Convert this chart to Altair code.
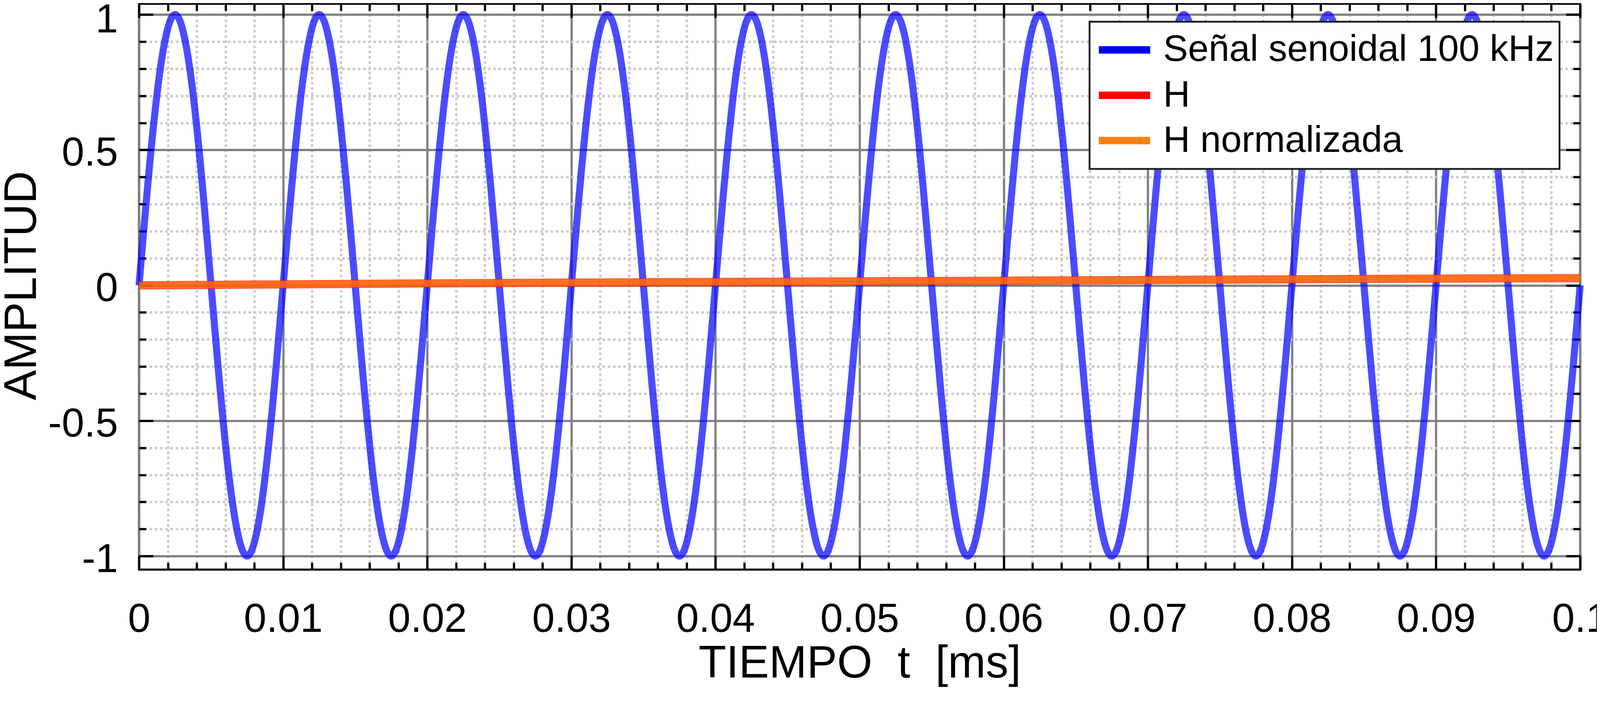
import altair as alt
import pandas as pd

FONT = "Liberation Sans"

SERIES = ["Señal senoidal 100 kHz", "H", "H normalizada"]
COLORS = ["#0000ff", "#ff0000", "#ff7f0e"]

T_WAVE = [
    0.0, 0.00125, 0.0025, 0.00375, 0.005, 0.00625, 0.0075, 0.00875,
    0.01, 0.01125, 0.0125, 0.01375, 0.015, 0.01625, 0.0175, 0.01875,
    0.02, 0.02125, 0.0225, 0.02375, 0.025, 0.02625, 0.0275, 0.02875,
    0.03, 0.03125, 0.0325, 0.03375, 0.035, 0.03625, 0.0375, 0.03875,
    0.04, 0.04125, 0.0425, 0.04375, 0.045, 0.04625, 0.0475, 0.04875,
    0.05, 0.05125, 0.0525, 0.05375, 0.055, 0.05625, 0.0575, 0.05875,
    0.06, 0.06125, 0.0625, 0.06375, 0.065, 0.06625, 0.0675, 0.06875,
    0.07, 0.07125, 0.0725, 0.07375, 0.075, 0.07625, 0.0775, 0.07875,
    0.08, 0.08125, 0.0825, 0.08375, 0.085, 0.08625, 0.0875, 0.08875,
    0.09, 0.09125, 0.0925, 0.09375, 0.095, 0.09625, 0.0975, 0.09875,
    0.1,
]
A_WAVE = [
    0, 0.707, 1, 0.707, 0, -0.707, -1, -0.707,
    0, 0.707, 1, 0.707, 0, -0.707, -1, -0.707,
    0, 0.707, 1, 0.707, 0, -0.707, -1, -0.707,
    0, 0.707, 1, 0.707, 0, -0.707, -1, -0.707,
    0, 0.707, 1, 0.707, 0, -0.707, -1, -0.707,
    0, 0.707, 1, 0.707, 0, -0.707, -1, -0.707,
    0, 0.707, 1, 0.707, 0, -0.707, -1, -0.707,
    0, 0.707, 1, 0.707, 0, -0.707, -1, -0.707,
    0, 0.707, 1, 0.707, 0, -0.707, -1, -0.707,
    0, 0.707, 1, 0.707, 0, -0.707, -1, -0.707,
    0,
]

T_H = [0.0, 0.01, 0.02, 0.03, 0.04, 0.05, 0.06, 0.07, 0.08, 0.09, 0.1]
H_VALS = [0.0, 0.0035, 0.0073, 0.0099, 0.0124, 0.0147, 0.0172, 0.0197, 0.0224, 0.0249, 0.0266]
HN_VALS = [0.0, 0.0035, 0.0075, 0.0100, 0.0125, 0.0147, 0.0172, 0.0197, 0.0225, 0.0250, 0.0266]

X_MAJOR = [0, 0.01, 0.02, 0.03, 0.04, 0.05, 0.06, 0.07, 0.08, 0.09, 0.1]
X_MINOR = [
    0.002, 0.004, 0.006, 0.008, 0.012, 0.014, 0.016, 0.018,
    0.022, 0.024, 0.026, 0.028, 0.032, 0.034, 0.036, 0.038,
    0.042, 0.044, 0.046, 0.048, 0.052, 0.054, 0.056, 0.058,
    0.062, 0.064, 0.066, 0.068, 0.072, 0.074, 0.076, 0.078,
    0.082, 0.084, 0.086, 0.088, 0.092, 0.094, 0.096, 0.098,
]
Y_MAJOR = [-1, -0.5, 0, 0.5, 1]
Y_MINOR = [-0.9, -0.8, -0.7, -0.6, -0.4, -0.3, -0.2, -0.1,
           0.1, 0.2, 0.3, 0.4, 0.6, 0.7, 0.8, 0.9]

X_TITLE = "TIEMPO \u00a0t \u00a0[ms]"
Y_TITLE = "AMPLITUD"

wave = pd.DataFrame({"t": T_WAVE, "v": A_WAVE, "s": SERIES[0]})
h = pd.DataFrame({"t": T_H, "v": H_VALS, "s": SERIES[1]})
hn = pd.DataFrame({"t": T_H, "v": HN_VALS, "s": SERIES[2]})

W = 3876
H = 1522.5

xs = alt.Scale(domain=[0, 0.1], nice=False, zero=False)
ys = alt.Scale(domain=[-1.05, 1.04], nice=False, zero=False)

legend = alt.Legend(
    title=None, orient="none", legendX=2556.5, legendY=48.5,
    symbolType="stroke", symbolSize=19044, symbolStrokeWidth=20, symbolOpacity=1,
    labelFont=FONT, labelFontSize=100, labelColor="black", labelLimit=0,
    labelOffset=25, padding=15, fillColor="white", strokeColor="#222222",
    clipHeight=121.5, rowPadding=0, direction="vertical",
)
color = alt.Color("s:N", scale=alt.Scale(domain=SERIES, range=COLORS), legend=legend)

NOAX = dict(labels=False, domain=False, title=None)


def tick_axis(orient, values, size):
    return alt.Axis(orient=orient, values=values, offset=-size, tickSize=size,
                    tickWidth=6, tickColor="black", ticks=True, grid=False, **NOAX)


def grid_axis(orient, values):
    return alt.Axis(orient=orient, values=values, grid=True, gridColor="#cccccc",
                    gridWidth=6.5, gridDash=[7, 7], ticks=False, tickSize=0, **NOAX)


x_main = alt.Axis(
    orient="bottom", values=X_MAJOR, format="~g",
    labelFont=FONT, labelFontSize=109, labelColor="black", labelPadding=167,
    labelBaseline="alphabetic", labelFlush=False, labelOverlap=False, labelLimit=0,
    ticks=False, tickSize=0, domain=False,
    grid=True, gridColor="#808080", gridWidth=6,
    title=X_TITLE, titleFont=FONT, titleFontSize=122, titleFontWeight="normal",
    titleColor="black", titleBaseline="alphabetic", titleY=290, titleX=W / 2,
    titleAlign="center",
)
y_main = alt.Axis(
    orient="left", values=Y_MAJOR, format="~g",
    labelExpr="replace(datum.label, '\u2212', '-')",
    labelFont=FONT, labelFontSize=109, labelColor="black", labelPadding=57,
    labelBaseline="alphabetic", labelFlush=False, labelOverlap=False, labelLimit=0,
    labelOffset={"condition": {"test": "datum.value == 1", "value": 48}, "value": 42},
    ticks=False, tickSize=0, domain=False,
    grid=True, gridColor="#808080", gridWidth=6,
    title=Y_TITLE, titleFont=FONT, titleFontSize=122, titleFontWeight="normal",
    titleColor="black", titleAngle=270, titleBaseline="alphabetic", titleAlign="center",
    titleX=-278, titleY=758,
)


def layer(df, mark, xaxis, yaxis, with_color):
    enc = dict(
        x=alt.X("t:Q", scale=xs, axis=xaxis),
        y=alt.Y("v:Q", scale=ys, axis=yaxis),
    )
    if with_color:
        enc["color"] = color
    return alt.Chart(df).mark_line(**mark).encode(**enc)


l_blue = layer(wave, dict(interpolate="natural", strokeWidth=19, strokeOpacity=0.7),
               x_main, y_main, True)
l_red = layer(h, dict(strokeWidth=22, strokeOpacity=0.7),
              grid_axis("bottom", X_MINOR), grid_axis("left", Y_MINOR), True)
l_orange = layer(hn, dict(strokeWidth=19, strokeOpacity=0.7),
                 tick_axis("bottom", X_MAJOR, 38), tick_axis("left", Y_MAJOR, 38), True)
l_a = layer(hn, dict(strokeOpacity=0),
            tick_axis("bottom", X_MINOR, 19), tick_axis("left", Y_MINOR, 19), False)
l_b = layer(hn, dict(strokeOpacity=0),
            tick_axis("top", X_MAJOR, 38), tick_axis("right", Y_MAJOR, 38), False)
l_c = layer(hn, dict(strokeOpacity=0),
            tick_axis("top", X_MINOR, 19), tick_axis("right", Y_MINOR, 19), False)

chart = (
    alt.layer(l_blue, l_red, l_orange, l_a, l_b, l_c)
    .resolve_axis(x="independent", y="independent")
    .properties(
        width=W, height=H,
        autosize=alt.AutoSizeParams(type="none"),
        padding={"left": 365.5, "top": -43, "right": 45, "bottom": 285},
        background="white",
    )
    .configure_view(stroke="black", strokeWidth=5.5)
    .configure_legend(strokeWidth=5)
)

chart.save("out.html", embed_options={"renderer": "svg", "actions": False})
